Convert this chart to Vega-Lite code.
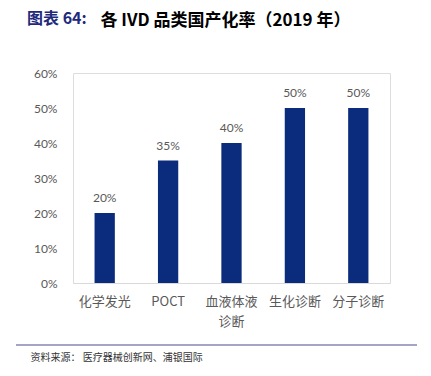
{
  "$schema": "https://vega.github.io/schema/vega-lite/v6.json",
  "width": 317,
  "height": 210,
  "autosize": "none",
  "padding": {"left": 73, "top": 73, "right": 41, "bottom": 93},
  "background": "white",
  "title": {
    "text": "图表 64:",
    "anchor": "start",
    "frame": "group",
    "dx": -46,
    "offset": -16,
    "font": "Noto Sans CJK SC",
    "fontSize": 16,
    "fontWeight": "bold",
    "color": "#1f2a7c"
  },
  "data": {
    "values": [
      {"category": "化学发光", "rate": 0.20, "label": "20%"},
      {"category": "POCT", "rate": 0.35, "label": "35%"},
      {"category": "血液体液诊断", "rate": 0.40, "label": "40%"},
      {"category": "生化诊断", "rate": 0.50, "label": "50%"},
      {"category": "分子诊断", "rate": 0.50, "label": "50%"}
    ]
  },
  "encoding": {
    "x": {
      "field": "category",
      "type": "nominal",
      "sort": null,
      "scale": {"paddingInner": 0.68, "paddingOuter": 0.34},
      "axis": {
        "title": "各 IVD 品类国产化率（2019 年）",
        "titleX": 27,
        "titleY": -258,
        "titleAlign": "left",
        "titleBaseline": "alphabetic",
        "titleFont": "Noto Sans CJK SC",
        "titleFontSize": 17,
        "titleFontWeight": "bold",
        "titleColor": "#000000",
        "labelAngle": 0,
        "labelExpr": "datum.value == '血液体液诊断' ? ['血液体液', '诊断'] : datum.value",
        "labelFont": "Noto Sans CJK SC",
        "labelFontSize": 13,
        "labelColor": "#595959",
        "labelPadding": 12,
        "labelLineHeight": 20,
        "ticks": false,
        "domainColor": "#d9d9d9",
        "domainWidth": 1,
        "grid": false
      }
    },
    "y": {
      "field": "rate",
      "type": "quantitative",
      "scale": {"domain": [0, 0.6]},
      "axis": {
        "values": [0, 0.1, 0.2, 0.3, 0.4, 0.5, 0.6],
        "format": ".0%",
        "labelOverlap": false,
        "grid": false,
        "domain": false,
        "ticks": false,
        "labelFont": "Lato",
        "labelFontSize": 12,
        "labelColor": "#595959",
        "labelPadding": 16,
        "title": "资料来源：  医疗器械创新网、浦银国际",
        "titleAngle": 0,
        "titleX": -43,
        "titleY": 287,
        "titleAlign": "left",
        "titleBaseline": "alphabetic",
        "titleFont": "Noto Sans CJK SC",
        "titleFontSize": 10,
        "titleFontWeight": "normal",
        "titleColor": "#333333"
      }
    }
  },
  "layer": [
    {
      "mark": {"type": "bar", "color": "#0b2b7c"}
    },
    {
      "mark": {"type": "text", "baseline": "alphabetic", "dy": -11, "font": "Lato", "fontSize": 12, "color": "#595959"},
      "encoding": {
        "text": {"field": "label"}
      }
    },
    {
      "mark": {"type": "rule", "clip": false, "color": "#a4a4c4", "strokeWidth": 1.5},
      "encoding": {
        "x": {"value": -57},
        "x2": {"value": 344},
        "y": {"datum": -0.177}
      }
    }
  ]
}
